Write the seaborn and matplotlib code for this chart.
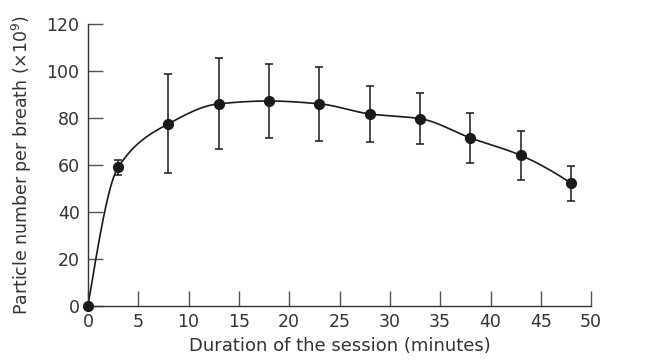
import numpy as np
import pandas as pd
import seaborn as sns
import matplotlib
matplotlib.use("Agg")
import matplotlib.pyplot as plt

sns.set_style("ticks")
plt.rcParams['font.family'] = ['DejaVu Sans']

# data
minutes = [0, 3, 8, 13, 18, 23, 28, 33, 38, 43, 48]
particles = [0, 59, 77.5, 86, 87.2, 86, 81.7, 79.7, 71.5, 64.1, 52.3]
sd = [0, 3.3, 21, 19.3, 15.7, 15.6, 11.8, 10.7, 10.6, 10.5, 7.4]

xticks = list(range(0, 55, 5))
yticks = list(range(0, 140, 20))

df = pd.DataFrame({"minutes": minutes, "particles": particles, "sd": sd})


def pchip_line(x, y, n=500):
    # monotone cubic (Fritsch-Carlson) through the points, for the smooth line
    x = np.asarray(x, float)
    y = np.asarray(y, float)
    h = np.diff(x)
    delta = np.diff(y) / h
    k = len(x)
    d = np.zeros(k)
    for i in range(1, k - 1):
        if delta[i - 1] * delta[i] > 0:
            w1 = 2 * h[i] + h[i - 1]
            w2 = h[i] + 2 * h[i - 1]
            d[i] = (w1 + w2) / (w1 / delta[i - 1] + w2 / delta[i])
    d[0] = ((2 * h[0] + h[1]) * delta[0] - h[0] * delta[1]) / (h[0] + h[1])
    if np.sign(d[0]) != np.sign(delta[0]):
        d[0] = 0
    elif np.sign(delta[0]) != np.sign(delta[1]) and abs(d[0]) > abs(3 * delta[0]):
        d[0] = 3 * delta[0]
    d[-1] = ((2 * h[-1] + h[-2]) * delta[-1] - h[-1] * delta[-2]) / (h[-1] + h[-2])
    if np.sign(d[-1]) != np.sign(delta[-1]):
        d[-1] = 0
    xs = np.linspace(x[0], x[-1], n)
    ys = np.empty_like(xs)
    for j, xv in enumerate(xs):
        i = min(np.searchsorted(x, xv, side="right") - 1, k - 2)
        t = (xv - x[i]) / h[i]
        h00 = 2 * t ** 3 - 3 * t ** 2 + 1
        h10 = t ** 3 - 2 * t ** 2 + t
        h01 = -2 * t ** 3 + 3 * t ** 2
        h11 = t ** 3 - t ** 2
        ys[j] = h00 * y[i] + h10 * h[i] * d[i] + h01 * y[i + 1] + h11 * h[i] * d[i + 1]
    return xs, ys


fig = plt.figure(figsize=(6.71, 3.61), dpi=100)
ax = fig.add_axes([0.131, 0.152, 0.75, 0.782])

xs, ys = pchip_line(df["minutes"], df["particles"])
sns.lineplot(x=xs, y=ys, ax=ax, color="#1a1a1a", linewidth=1.2)

ax.errorbar(df["minutes"][1:], df["particles"][1:], yerr=df["sd"][1:], fmt="none",
            ecolor="#1a1a1a", elinewidth=1.1, capsize=3, capthick=1.1, zorder=3)
sns.scatterplot(data=df, x="minutes", y="particles", ax=ax, color="#1a1a1a",
                s=65, edgecolor="#1a1a1a", linewidth=0, zorder=4, clip_on=False)

ax.set_xlim(0, 50)
ax.set_ylim(0, 120)
ax.set_xticks(xticks)
ax.set_yticks(yticks)
ax.tick_params(direction="in", length=10.5, width=1, color="#555555",
               labelsize=12.5, labelcolor="#333333")
ax.tick_params(axis="x", pad=5)
ax.tick_params(axis="y", pad=6)
for s in ["top", "right"]:
    ax.spines[s].set_visible(False)
for s in ["left", "bottom"]:
    ax.spines[s].set_color("#333333")
    ax.spines[s].set_linewidth(1)

ax.set_xlabel("Duration of the session (minutes)", fontsize=13, color="#333333", labelpad=4)
ax.set_ylabel(r"Particle number per breath ($\times$10$^9$)", fontsize=12.5,
              color="#333333", labelpad=9)

fig.savefig("out.png", dpi=100)
